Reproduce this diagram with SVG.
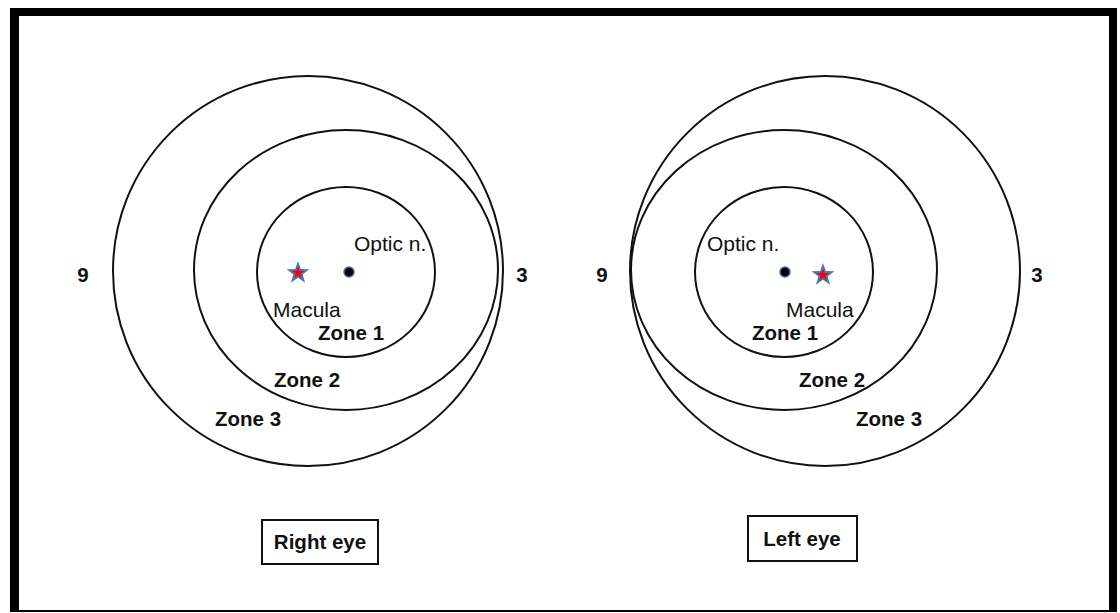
<svg xmlns="http://www.w3.org/2000/svg" width="1120" height="613" viewBox="0 0 1120 613">
  <style>
    .ring { fill: none; stroke: #111; stroke-width: 2; }
    .lbl { font-family: "Liberation Sans", Arial, sans-serif; font-size: 21px; fill: #111; }
    .bold { font-family: "Liberation Sans", Arial, sans-serif; font-size: 20.5px; font-weight: bold; fill: #111; }
    .box { fill: #fff; stroke: #111; stroke-width: 2; }
    .disc { fill: #000; stroke: #41719c; stroke-width: 1.5; }
  </style>
  <defs>
    <polygon id="starOuter" points="0,-12 2.8,-3.9 11.4,-3.7 4.6,1.5 7.1,9.7 0,4.8 -7.1,9.7 -4.6,1.5 -11.4,-3.7 -2.8,-3.9" fill="#4a76b8"/>
    <polygon id="starInner" points="0,-6.5 1.5,-2.1 6.2,-2 2.5,0.8 3.8,5.3 0,2.6 -3.8,5.3 -2.5,0.8 -6.2,-2 -1.5,-2.1" fill="#ff0000"/>
  </defs>

  <rect width="1120" height="613" fill="#fff"/>

  <!-- frame -->
  <g id="frame" fill="#000">
    <rect x="10" y="8" width="1107" height="8"/>
    <rect x="10" y="8" width="9" height="604"/>
    <rect x="1109" y="8" width="8" height="604"/>
    <rect x="10" y="610" width="1107" height="2"/>
  </g>

  <!-- right eye -->
  <g id="right-eye">
    <circle class="ring" cx="308" cy="271" r="195"/>
    <ellipse class="ring" cx="346" cy="270" rx="152" ry="140"/>
    <ellipse class="ring" cx="346" cy="272" rx="89" ry="85"/>
    <circle class="disc" cx="349" cy="272" r="5"/>
    <use href="#starOuter" x="298" y="273"/>
    <use href="#starInner" x="298" y="273"/>
    <text class="lbl" x="354" y="251">Optic n.</text>
    <text class="lbl" x="273" y="317">Macula</text>
    <text class="bold" x="318" y="340">Zone 1</text>
    <text class="bold" x="274" y="387">Zone 2</text>
    <text class="bold" x="215" y="426">Zone 3</text>
    <text class="bold" x="83" y="282" text-anchor="middle">9</text>
    <text class="bold" x="522" y="282" text-anchor="middle">3</text>
  </g>
  <g id="right-eye-label">
    <rect class="box" x="262" y="520" width="116" height="44"/>
    <text class="bold" x="320" y="549" text-anchor="middle">Right eye</text>
  </g>

  <!-- left eye -->
  <g id="left-eye">
    <circle class="ring" cx="825" cy="271" r="195"/>
    <ellipse class="ring" cx="784" cy="270" rx="153" ry="140"/>
    <ellipse class="ring" cx="784" cy="272" rx="89" ry="85"/>
    <circle class="disc" cx="785" cy="272" r="5"/>
    <use href="#starOuter" x="823" y="275"/>
    <use href="#starInner" x="823" y="275"/>
    <text class="lbl" x="707" y="251">Optic n.</text>
    <text class="lbl" x="786" y="317">Macula</text>
    <text class="bold" x="752" y="340">Zone 1</text>
    <text class="bold" x="799" y="387">Zone 2</text>
    <text class="bold" x="856" y="426">Zone 3</text>
    <text class="bold" x="602" y="282" text-anchor="middle">9</text>
    <text class="bold" x="1037" y="282" text-anchor="middle">3</text>
  </g>
  <g id="left-eye-label">
    <rect class="box" x="748" y="516" width="109" height="45"/>
    <text class="bold" x="802" y="546" text-anchor="middle">Left eye</text>
  </g>
</svg>
